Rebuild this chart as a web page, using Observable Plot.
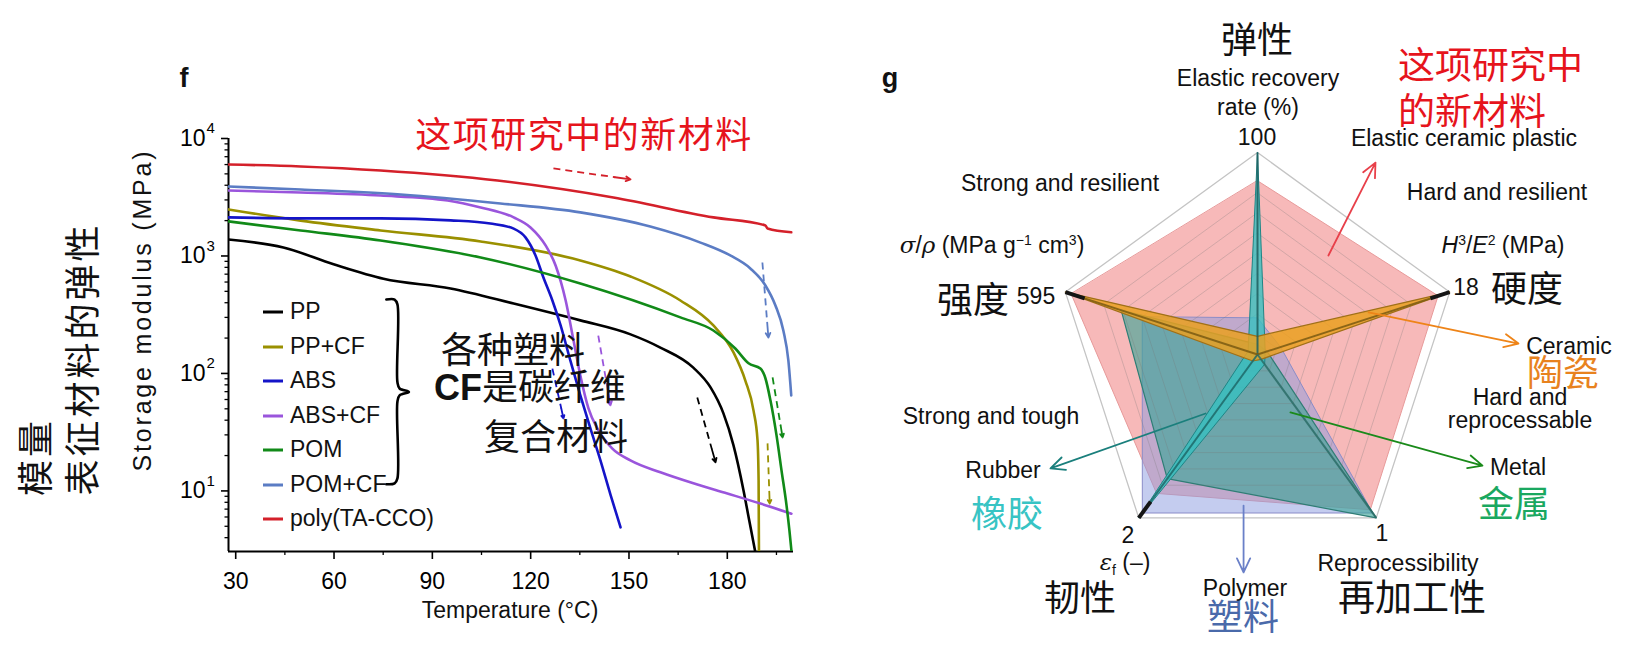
<!DOCTYPE html>
<html><head><meta charset="utf-8">
<script src="https://cdn.jsdelivr.net/npm/d3@7"></script>
<script src="https://cdn.jsdelivr.net/npm/@observablehq/plot@0.6"></script>
<style>
body{margin:0;background:#fff}
#root{position:relative;width:1626px;height:660px;overflow:hidden;background:#fff;font-family:"Liberation Sans",Arial,sans-serif;color:#111}
#root svg{position:absolute;top:0}
.t{position:absolute;transform:translate(-50%,-50%);white-space:nowrap;line-height:1}
</style></head><body><div id="root"></div>
<script>
// ---------------- panel f : storage modulus vs temperature ----------------
const seriesNames = ["PP","PP+CF","ABS","ABS+CF","POM","POM+CF","poly(TA-CCO)"];
const PP_T   = [27.8,44.55,59.87,75.09,95.55,114.81,135.16,150.48,159.57,169.63,174.89,178.82,181.89,184.95,186.70,188.56];
const PP_E   = [1380,1180,850,640,529,394,283,215,166,112,76,45.7,24.4,10.1,5.6,3.0];
const PPCF_T = [27.8,49.81,74.21,104.74,135.16,150.48,165.69,175.76,181.89,185.50,188.02,189.22,189.55,189.66];
const PPCF_E = [2490,2000,1650,1330,916,669,418,256,151,87,48,27,12.3,3.0];
const ABS_T  = [27.8,49.81,74.21,95.55,107.70,114.81,118.42,121.48,123.89,126.63,129.14,132.10,135.16,138.23,141.29,144.35,147.42];
const ABS_E  = [2130,2090,2090,2010,1890,1710,1440,1010,656,418,256,129,65,34,18.2,9.3,4.9];
const ABSCF_T = [27.8,49.81,74.21,94.67,104.74,114.81,119.95,124.55,127.61,130.68,133.08,135.16,137.63,140.68,144.85,150.44,159.59,169.66,180.03,190.10,199.56];
const ABSCF_E = [3610,3470,3270,2970,2590,2130,1750,1230,830,418,191,96,50.4,32.7,23.0,18.2,14.4,11.6,9.5,7.8,6.4];
const POM_T  = [27.8,49.81,74.21,104.74,135.16,165.69,175.76,182.44,186.48,190.10,191.63,193.16,195.02,196.55,198.08,198.96,199.62];
const POM_E  = [1970,1650,1355,971,583,300,232,163,122,110,91,59,29.7,14.9,7.5,4.6,3.0];
const POMCF_T = [27.8,49.81,80.34,110.76,135.16,156.50,171.82,180.90,187.03,191.63,194.69,197.10,198.63,199.51];
const POMCF_E = [3900,3680,3340,2800,2350,1780,1300,1010,783,561,379,232,129,65];
const TACCO_T = [27.8,49.81,74.21,109.88,145.23,175.76,191.63,192.28,199.51];
const TACCO_E = [6010,5780,5340,4390,3150,2130,1820,1710,1590];
const seriesT = [PP_T,PPCF_T,ABS_T,ABSCF_T,POM_T,POMCF_T,TACCO_T];
const seriesE = [PP_E,PPCF_E,ABS_E,ABSCF_E,POM_E,POMCF_E,TACCO_E];
const seriesColors = ["#000000","#9a9000","#1414c8","#9a55dc","#118a18","#5b7cc4","#d4202a"];

const X_TICKS = [30,60,90,120,150,180];
const X_MINOR = [45,75,105,135,165,195];
const Y_TICKS = [10,100,1000,10000];
const Y_MINOR = [4,5,6,7,8,9,20,30,40,50,60,70,80,90,200,300,400,500,600,700,800,900,2000,3000,4000,5000,6000,7000,8000,9000];

// dashed trend arrows (start / end, in data units)
const arrowSeries = ["poly(TA-CCO)","POM+CF","POM","PP+CF","PP","ABS+CF","ABS"];
const arrowT1 = [126.95,190.71,193.82,192.28,170.84,140.63,126.63];
const arrowE1 = [5560,880,92.5,25.4,62.5,210,110];
const arrowT2 = [150.48,192.54,196.88,192.94,176.42,144.35,130.02];
const arrowE2 = [4480,202,28.5,7.8,17.5,53.5,41.4];

// legend brace (data units)
const braceT = [75.96,78.48,79.35,79.35,80.01,82.85,80.01,79.35,79.35,78.48,75.96];
const braceE = [426,426,387,84,74.5,69.6,65,57.8,12.8,11.6,11.4];

// ---------------- panel g : radar ----------------
const axisNames = ["弹性","硬度","再加工性","韧性","强度"];
const axisAngles = [90,18,-54,-126,162];
const radarSeries = ["Elastic ceramic plastic","Polymer","Metal","Rubber","Ceramic"];
const newMaterial = [0.86,0.94,0.95,0.85,0.97];
const polymer     = [0.18,0.12,0.97,0.97,0.60];
const metal       = [0.05,0.05,1.00,0.76,0.71];
const rubber      = [1.00,0.04,0.06,1.00,0.05];
const ceramic     = [0.09,1.00,0.03,0.04,1.00];
const ringLevels  = [0.1,0.2,0.3,0.4,0.5,0.6,0.7,0.8];
// annotation arrows in radar units
const rArrowX1 = [0.351,0.550,0.163,-0.069,-0.257];
const rArrowY1 = [0.490,0.208,-0.287,-0.748,-0.292];
const rArrowX2 = [0.584,1.292,1.114,-0.069,-1.025];
const rArrowY2 = [0.950,0.054,-0.550,-1.079,-0.564];
const rArrowColors = ["#e8404a","#ee8418","#1a8a1a","#6a80c8","#1a7f7c"];

const root = document.getElementById("root");

// ---- left plot
const lineMarks = seriesNames.map((n,i) =>
  Plot.line(seriesT[i].map((t,j)=>({T:t,E:seriesE[i][j]})),
    {x:"T", y:"E", stroke: seriesColors[i], strokeWidth: 2.6, curve: "monotone-x", clip: true}));
const arrows = arrowSeries.map((n,i)=>{
  const f = 0.8;
  const tm = arrowT1[i] + f*(arrowT2[i]-arrowT1[i]);
  const em = Math.pow(10, Math.log10(arrowE1[i]) + f*(Math.log10(arrowE2[i])-Math.log10(arrowE1[i])));
  return {c: seriesColors[seriesNames.indexOf(n)], t1: arrowT1[i], e1: arrowE1[i], tm, em, t2: arrowT2[i], e2: arrowE2[i]};
});

const left = Plot.plot({
  width: 820, height: 660,
  marginLeft: 228, marginRight: 27, marginTop: 138, marginBottom: 109,
  x: {domain: [27.8, 200.2]},
  y: {type: "log", domain: [3.05, 1e4]},
  style: {fontFamily: "Liberation Sans, Arial, sans-serif", fontSize: "23px", color: "#000", background: "none"},
  marks: [
    Plot.axisY({ticks: Y_TICKS, tickSize: 7, tickFormat: () => "", strokeWidth: 1.6, label: null}),
    Plot.axisY({ticks: Y_MINOR, tickSize: 3.5, tickFormat: () => "", strokeWidth: 1.3, label: null}),
    Plot.axisX({ticks: X_TICKS, tickSize: 8, tickPadding: 13, fontSize: 23, strokeWidth: 1.6, label: null}),
    Plot.axisX({ticks: X_MINOR, tickSize: 4, tickFormat: () => "", strokeWidth: 1.3, label: null}),
    Plot.ruleX([27.8], {strokeWidth: 2}),
    Plot.ruleY([3.05], {strokeWidth: 2}),
    Plot.text(Y_TICKS, {x: () => 27.8, y: d => d, text: () => "10", textAnchor: "end", dx: -23, fontSize: 23}),
    Plot.text(Y_TICKS, {x: () => 27.8, y: d => d, text: d => String(Math.round(Math.log10(d))), textAnchor: "start", dx: -22, dy: -10, fontSize: 15}),
    ...lineMarks,
    Plot.link(arrows, {x1: "t1", y1: "e1", x2: "tm", y2: "em", stroke: "c", strokeWidth: 1.8, strokeDasharray: "7,5"}),
    Plot.arrow(arrows, {x1: "tm", y1: "em", x2: "t2", y2: "e2", stroke: "c", strokeWidth: 1.8, headLength: 11, headAngle: 55}),
    Plot.line(braceT.map((t,i)=>({T:t,E:braceE[i]})), {x:"T", y:"E", stroke:"#000", strokeWidth: 2.6, curve: "catmull-rom"})
  ]
});
left.style.left = "0px";
root.appendChild(left);

// ---- right plot (radar)
const rad = a => a*Math.PI/180;
const poly = vals => vals.map((v,i)=>({x: v*Math.cos(rad(axisAngles[i])), y: v*Math.sin(rad(axisAngles[i]))}));
const ringData = ringLevels.flatMap(l => axisAngles.map(a => ({l, x: l*Math.cos(rad(a)), y: l*Math.sin(rad(a))})));
const spokes = axisAngles.map(a => ({x1:0,y1:0,x2:Math.cos(rad(a)),y2:Math.sin(rad(a))}));
const spokeColors = ["#1d5e5e","#7a5a12","#2a6c66","#1d6868","#7a5a12"];
const tipAxes = [1,3,4];
const tips = tipAxes.map(k => { const a = axisAngles[k]; return {x1:0.9*Math.cos(rad(a)),y1:0.9*Math.sin(rad(a)),x2:Math.cos(rad(a)),y2:Math.sin(rad(a))}; });
const rArrows = rArrowX1.map((x,i)=>({x1:x,y1:rArrowY1[i],x2:rArrowX2[i],y2:rArrowY2[i],c:rArrowColors[i]}));

const right = Plot.plot({
  width: 786, height: 660, margin: 0, inset: 0,
  x: {domain: [-2.0644, 1.8267], axis: null},
  y: {domain: [-1.5149, 1.7525], axis: null},
  style: {background: "none"},
  marks: [
    Plot.line(poly([1,1,1,1,1]), {x:"x", y:"y", curve:"linear-closed", stroke:"#c4c4c4", strokeWidth:1.3}),
    Plot.line(poly(newMaterial), {x:"x", y:"y", curve:"linear-closed", fill:"#f08080", fillOpacity:0.55, stroke:"#e79a9a", strokeWidth:1}),
    Plot.line(poly(polymer), {x:"x", y:"y", curve:"linear-closed", fill:"#8a9ae0", fillOpacity:0.5, stroke:"#8a8cc8", strokeWidth:1}),
    Plot.line(poly(metal), {x:"x", y:"y", curve:"linear-closed", fill:"#3aa596", fillOpacity:0.62, stroke:"#2f7d75", strokeWidth:1.2}),
    Plot.line(ringData, {x:"x", y:"y", z:"l", curve:"linear-closed", stroke:"#777", strokeOpacity:0.32, strokeWidth:0.9}),
    Plot.line(poly(rubber), {x:"x", y:"y", curve:"linear-closed", fill:"#36c0c0", fillOpacity:0.8, stroke:"#1f8585", strokeWidth:1}),
    Plot.line(poly(ceramic), {x:"x", y:"y", curve:"linear-closed", fill:"#eaa020", fillOpacity:0.85, stroke:"#a07018", strokeWidth:1.2}),
    Plot.link(spokes, {x1:"x1", y1:"y1", x2:"x2", y2:"y2", stroke: (d,i)=>spokeColors[i], strokeWidth: 2, strokeOpacity: 0.85}),
    Plot.link(tips, {x1:"x1", y1:"y1", x2:"x2", y2:"y2", stroke:"#151515", strokeWidth: 4}),
    Plot.arrow(rArrows, {x1:"x1", y1:"y1", x2:"x2", y2:"y2", stroke:"c", strokeWidth:1.8, headLength:13, headAngle:50})
  ]
});
right.style.left = "840px";
root.appendChild(right);

// ---- text
const ZH = '"Noto Sans CJK SC", sans-serif';
function label(html, x, y, o = {}) {
  const d = document.createElement("div");
  d.className = "t";
  d.innerHTML = html;
  d.style.left = x + "px"; d.style.top = y + "px";
  d.style.fontSize = (o.size || 23) + "px";
  if (o.color) d.style.color = o.color;
  if (o.zh) d.style.fontFamily = ZH;
  if (o.bold) d.style.fontWeight = "bold";
  if (o.ls) d.style.letterSpacing = o.ls + "px";
  if (o.rot) d.style.transform = `translate(-50%,-50%) rotate(${o.rot}deg)`;
  if (o.start) d.style.transform = "translate(0,-50%)";
  root.appendChild(d);
}
// panel f
label("f", 184, 78, {size: 27, bold: true});
label("g", 890, 78, {size: 27, bold: true});
label("这项研究中的新材料", 584, 132, {size: 36, zh: true, color: "#e6141c", ls: 1.5});
label("Storage modulus (MPa)", 142, 310, {rot: -90, size: 25, ls: 2.8});
label("Temperature (°C)", 510, 610);
label("模量", 33, 457, {size: 36, zh: true, rot: -90, ls: 3});
label("表征材料的弹性", 80, 359, {size: 36, zh: true, rot: -90, ls: 3});
label("各种塑料", 513, 347, {size: 36, zh: true});
label('<b style="font-family:Liberation Sans,Arial,sans-serif">CF</b>是碳纤维', 434, 386, {size: 36, zh: true, start: true});
label("复合材料", 556, 434, {size: 36, zh: true});
seriesNames.forEach((n,i) => {
  label(`<span style="display:inline-block;width:20px;height:3px;background:${seriesColors[i]};vertical-align:middle;margin-right:7px"></span>${n}`,
    263, 311 + i*34.5, {start: true, size: 23});
});
// panel g
label("弹性", 1257, 37, {size: 36, zh: true});
label("Elastic recovery", 1258, 78);
label("rate (%)", 1258, 107);
label("100", 1257, 137);
label("这项研究中", 1398, 63, {size: 37, zh: true, color: "#e6141c", start: true});
label("的新材料", 1398, 109, {size: 37, zh: true, color: "#e6141c", start: true});
label("Elastic ceramic plastic", 1464, 138);
label("Hard and resilient", 1497, 192);
label("<i>H</i><sup style='font-size:14px'>3</sup>/<i>E</i><sup style='font-size:14px'>2</sup> (MPa)", 1503, 245);
label("18", 1466, 287);
label("硬度", 1527, 286, {size: 36, zh: true});
label("Strong and resilient", 1060, 183);
label("<i style='font-family:DejaVu Serif,serif'>σ</i>/<i style='font-family:DejaVu Serif,serif'>ρ</i> (MPa g<sup style='font-size:14px'>−1</sup> cm<sup style='font-size:14px'>3</sup>)", 992, 245);
label("强度", 973, 297, {size: 36, zh: true});
label("595", 1036, 296);
label("Ceramic", 1569, 346);
label("陶瓷", 1563, 370, {size: 36, zh: true, color: "#e8821e"});
label("Hard and", 1520, 397);
label("reprocessable", 1520, 420);
label("Metal", 1518, 467);
label("金属", 1514, 501, {size: 36, zh: true, color: "#1aa860"});
label("1", 1382, 533);
label("Reprocessibility", 1398, 563);
label("再加工性", 1412, 595, {size: 37, zh: true});
label("Polymer", 1245, 588);
label("塑料", 1243, 614, {size: 36, zh: true, color: "#4a6aaa"});
label("Strong and tough", 991, 416);
label("Rubber", 1003, 470);
label("橡胶", 1007, 511, {size: 36, zh: true, color: "#38c4c4"});
label("2", 1128, 535);
label("<i style='font-family:DejaVu Serif,serif'>ε</i><sub style='font-size:14px'>f</sub> (–)", 1125, 564);
label("韧性", 1080, 595, {size: 36, zh: true});
</script></body></html>
